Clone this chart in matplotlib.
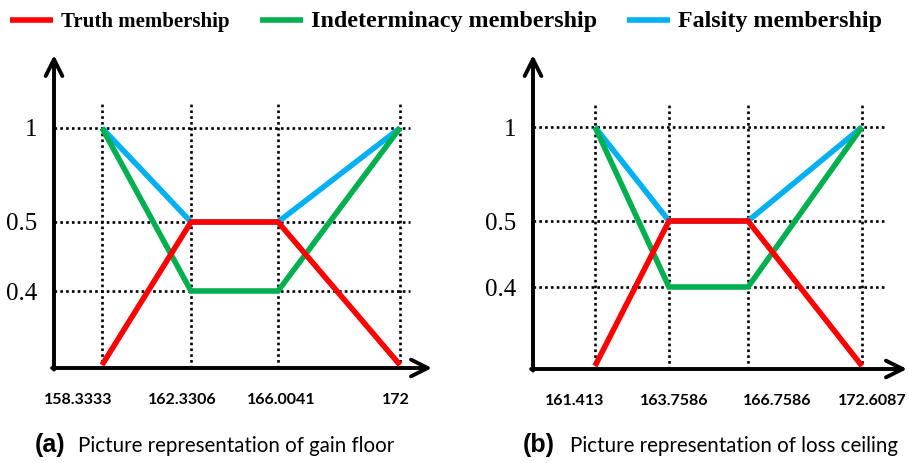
import numpy as np
import matplotlib
matplotlib.use("Agg")
import matplotlib.pyplot as plt
from matplotlib.transforms import ScaledTranslation

# data
series_names = ["Truth membership", "Indeterminacy membership", "Falsity membership"]
series_colors = ["#FF0000", "#00B050", "#00B0F0"]

gain_x = [158.3333, 162.3306, 166.0041, 172]
gain_x_labels = ["158.3333", "162.3306", "166.0041", "172"]
gain_truth = [0, 0.5, 0.5, 0]
gain_indet = [1, 0.4, 0.4, 1]
gain_false = [1, 0.5, 0.5, 1]

loss_x = [161.413, 163.7586, 166.7586, 172.6087]
loss_x_labels = ["161.413", "163.7586", "166.7586", "172.6087"]
loss_truth = [0, 0.5, 0.5, 0]
loss_indet = [1, 0.4, 0.4, 1]
loss_false = [1, 0.5, 0.5, 1]

y_levels = [0.4, 0.5, 1]
y_labels = ["0.4", "0.5", "1"]

W, H = 909, 463
fig = plt.figure(figsize=(W / 100, H / 100), dpi=100)

sans = ["Lato", "DejaVu Sans"]


def piecewise(vals, pix, hi_pix):
    # piecewise-linear scale so the drawing keeps the hand-made spacing of the original
    s0 = (vals[1] - vals[0]) / (pix[1] - pix[0])
    s1 = (vals[-1] - vals[-2]) / (pix[-1] - pix[-2])
    lo_val = vals[0] - pix[0] * s0
    hi_val = vals[-1] + (hi_pix - pix[-1]) * s1
    v = [lo_val] + list(vals) + [hi_val]
    p = [0] + list(pix) + [hi_pix]
    fwd = lambda x: np.interp(x, v, p)
    inv = lambda y: np.interp(y, p, v)
    return fwd, inv, (lo_val, hi_val)


def panel(l, r, b, t, xs, xlabels, xpix, ypix, series, label_dx, hfrac, vfrac):
    ax = fig.add_axes([l / W, 1 - b / H, (r - l) / W, (b - t) / H])
    fx, ix, xlim = piecewise(xs, xpix, r - l)
    fy, iy, ylim = piecewise([0] + y_levels, ypix, b - t)
    ax.set_xscale("function", functions=(fx, ix))
    ax.set_yscale("function", functions=(fy, iy))
    ax.set_xlim(*xlim)
    ax.set_ylim(*ylim)
    for s in ax.spines.values():
        s.set_visible(False)

    # dotted grid
    ax.vlines(xs, 0, vfrac, transform=ax.get_xaxis_transform(), colors="black",
              linestyles=(0, (1, 1.2)), linewidth=1.9, zorder=1)
    ax.hlines(y_levels, 0, hfrac, transform=ax.get_yaxis_transform(), colors="black",
              linestyles=(0, (1, 1.2)), linewidth=1.9, zorder=1)

    # blue first, then green, red on top
    handles = {}
    for i in [2, 1, 0]:
        ln, = ax.plot(xs, series[i], color=series_colors[i], linewidth=4.0,
                      solid_capstyle="butt", solid_joinstyle="miter",
                      label=series_names[i], zorder=3 + (2 - i))
        handles[i] = ln

    # arrow axes
    ap = dict(arrowstyle="->", lw=2.8, color="black", mutation_scale=30,
              shrinkA=0, shrinkB=0)
    ax.annotate("", xy=(0, 1), xytext=(0, -0.005), xycoords="axes fraction",
                arrowprops=ap, annotation_clip=False)
    ax.annotate("", xy=(1, 0), xytext=(-0.005, 0), xycoords="axes fraction",
                arrowprops=ap, annotation_clip=False)

    ax.set_xticks(xs, labels=xlabels)
    ax.set_yticks(y_levels, labels=y_labels)
    ax.tick_params(axis="x", length=0, pad=18)
    ax.tick_params(axis="y", length=0, pad=12)
    for lab, dx in zip(ax.get_xticklabels(), label_dx):
        lab.set_fontfamily(sans)
        lab.set_fontweight("bold")
        lab.set_fontsize(11.5)
        lab.set_transform(lab.get_transform() + ScaledTranslation(dx / 100, 0, fig.dpi_scale_trans))
    for lab in ax.get_yticklabels():
        lab.set_fontfamily("Liberation Serif")
        lab.set_fontsize(18)
    return [handles[0], handles[1], handles[2]]


h = panel(54, 432, 368, 55, gain_x, gain_x_labels, [48, 137, 224, 346],
          [3, 77, 146, 240], [gain_truth, gain_indet, gain_false],
          [-24, -9, 3, -4], 0.942, 0.847)
panel(533, 907, 369, 55, loss_x, loss_x_labels, [62, 136, 215, 329],
      [3, 82, 148, 242], [loss_truth, loss_indet, loss_false],
      [-20, 5, 29, 10], 0.947, 0.843)

leg = fig.legend(h, series_names, loc="center left", bbox_to_anchor=(10 / W, 1 - 22 / H),
                 ncol=3, frameon=False, borderpad=0, borderaxespad=0,
                 handlelength=2.05, handletextpad=0.4, columnspacing=1.45,
                 prop=dict(family="Liberation Serif", weight="bold", size=15))
for txt in leg.get_texts()[1:]:
    txt.set_fontsize(17.3)

# captions
fig.text(35 / W, 1 - 445 / H, "(a)", family="Liberation Sans", weight="bold",
         fontsize=18, va="center", ha="left")
fig.text(78 / W, 1 - 446 / H, "Picture representation of gain floor", family=sans,
         fontsize=14.8, va="center", ha="left")
fig.text(523 / W, 1 - 445 / H, "(b)", family="Liberation Sans", weight="bold",
         fontsize=18, va="center", ha="left")
fig.text(570 / W, 1 - 446 / H, "Picture representation of loss ceiling", family=sans,
         fontsize=14.8, va="center", ha="left")

fig.savefig("out.png", dpi=100)
